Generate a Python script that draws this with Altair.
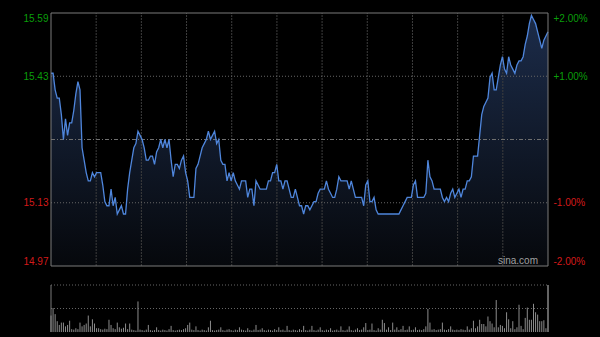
import altair as alt
import pandas as pd

PREV_CLOSE = 15.28

prices = [
    15.44, 15.44, 15.40, 15.38, 15.38, 15.34, 15.28, 15.33, 15.29, 15.32,
    15.32, 15.35, 15.39, 15.42, 15.40, 15.26, 15.23, 15.20, 15.18, 15.18,
    15.20, 15.19, 15.20, 15.20, 15.20, 15.17, 15.13, 15.12, 15.12, 15.16,
    15.12, 15.14, 15.10, 15.11, 15.12, 15.10, 15.10, 15.16, 15.20, 15.23,
    15.26, 15.27, 15.30, 15.29, 15.28, 15.26, 15.23, 15.23, 15.24, 15.24,
    15.22, 15.25, 15.26, 15.28, 15.26, 15.28, 15.26, 15.28, 15.23, 15.19,
    15.22, 15.22, 15.21, 15.23, 15.24, 15.20, 15.18, 15.14, 15.14, 15.14,
    15.21, 15.22, 15.24, 15.26, 15.27, 15.28, 15.30, 15.28, 15.29, 15.30,
    15.27, 15.28, 15.23, 15.22, 15.22, 15.18, 15.20, 15.18, 15.20, 15.18,
    15.17, 15.16, 15.18, 15.18, 15.18, 15.14, 15.16, 15.16, 15.12, 15.18,
    15.17, 15.16, 15.16, 15.16, 15.16, 15.18, 15.18, 15.20, 15.20, 15.22,
    15.18, 15.18, 15.16, 15.18, 15.18, 15.16, 15.14, 15.14, 15.16, 15.14,
    15.12, 15.12, 15.10, 15.12, 15.12, 15.11, 15.12, 15.13, 15.13, 15.15,
    15.16, 15.16, 15.16, 15.18, 15.16, 15.15, 15.14, 15.14, 15.16, 15.19,
    15.18, 15.18, 15.18, 15.18, 15.16, 15.18, 15.16, 15.14, 15.14, 15.14,
    15.14, 15.12, 15.17, 15.18, 15.13, 15.13, 15.14, 15.11, 15.10, 15.10,
    15.10, 15.10, 15.10, 15.10, 15.10, 15.10, 15.10, 15.10, 15.10, 15.11,
    15.12, 15.13, 15.14, 15.14, 15.14, 15.17, 15.18, 15.14, 15.14, 15.14,
    15.14, 15.15, 15.23, 15.19, 15.18, 15.16, 15.16, 15.16, 15.16, 15.14,
    15.13, 15.14, 15.13, 15.15, 15.16, 15.14, 15.15, 15.16, 15.14, 15.16,
    15.16, 15.18, 15.18, 15.19, 15.24, 15.24, 15.24, 15.29, 15.34, 15.36,
    15.37, 15.38, 15.43, 15.44, 15.40, 15.40, 15.43, 15.46, 15.48, 15.45,
    15.44, 15.48, 15.46, 15.45, 15.44, 15.46, 15.47, 15.47, 15.48, 15.51,
    15.53, 15.56, 15.58, 15.57, 15.56, 15.54, 15.52, 15.50, 15.52, 15.53,
    15.54,
]

volumes = [
    0.35, 0.51, 0.38, 0.23, 0.15, 0.20, 0.20, 0.12, 0.15, 0.24,
    0.06, 0.05, 0.08, 0.06, 0.20, 0.12, 0.15, 0.18, 0.35, 0.12,
    0.27, 0.18, 0.08, 0.08, 0.06, 0.05, 0.07, 0.06, 0.26, 0.15,
    0.08, 0.06, 0.20, 0.10, 0.07, 0.09, 0.18, 0.06, 0.18, 0.05,
    0.04, 0.03, 0.65, 0.05, 0.04, 0.03, 0.05, 0.15, 0.04, 0.03,
    0.04, 0.10, 0.04, 0.03, 0.05, 0.04, 0.03, 0.06, 0.13, 0.04,
    0.03, 0.04, 0.05, 0.04, 0.06, 0.08, 0.15, 0.20, 0.05, 0.04,
    0.12, 0.04, 0.03, 0.05, 0.04, 0.03, 0.10, 0.24, 0.04, 0.03,
    0.04, 0.05, 0.10, 0.04, 0.03, 0.05, 0.06, 0.04, 0.03, 0.05,
    0.04, 0.10, 0.05, 0.04, 0.03, 0.08, 0.04, 0.03, 0.05, 0.15,
    0.04, 0.05, 0.08, 0.04, 0.03, 0.05, 0.04, 0.03, 0.06, 0.04,
    0.10, 0.04, 0.05, 0.03, 0.13, 0.04, 0.03, 0.05, 0.04, 0.03,
    0.06, 0.04, 0.13, 0.04, 0.03, 0.05, 0.13, 0.04, 0.03, 0.05,
    0.10, 0.04, 0.03, 0.05, 0.04, 0.08, 0.03, 0.04, 0.05, 0.03,
    0.12, 0.04, 0.03, 0.05, 0.12, 0.04, 0.03, 0.05, 0.08, 0.04,
    0.05, 0.10, 0.19, 0.04, 0.05, 0.18, 0.04, 0.03, 0.08, 0.05,
    0.26, 0.19, 0.05, 0.10, 0.04, 0.20, 0.05, 0.10, 0.04, 0.06,
    0.13, 0.04, 0.05, 0.12, 0.04, 0.05, 0.10, 0.04, 0.05, 0.04,
    0.06, 0.12, 0.49, 0.20, 0.05, 0.06, 0.04, 0.05, 0.06, 0.20,
    0.05, 0.04, 0.06, 0.12, 0.05, 0.04, 0.05, 0.04, 0.06, 0.05,
    0.04, 0.12, 0.05, 0.08, 0.24, 0.08, 0.12, 0.26, 0.17, 0.17,
    0.12, 0.33, 0.23, 0.18, 0.10, 0.68, 0.10, 0.15, 0.13, 0.08,
    0.42, 0.27, 0.08, 0.23, 0.06, 0.10, 0.58, 0.13, 0.06, 0.30,
    0.52, 0.26, 0.26, 0.60, 0.42, 0.37, 0.23, 0.23, 0.25, 0.08,
    1.00,
]

tick_pcts = [0.02, 0.01, -0.01, -0.02]
grid_pcts = [0.01, -0.01]
n_vdiv = 11
watermark = "sina.com"

GREEN = "#0a9e0a"
RED = "#d41a1a"
FONT = "Liberation Sans"

lo = PREV_CLOSE * 0.98
hi = PREV_CLOSE * 1.02
vmax = max(volumes)
n_last = len(prices) - 1

df = pd.DataFrame({"i": list(range(len(prices))), "price": prices, "vol": volumes})
df["pct"] = df["price"] / PREV_CLOSE - 1

W, H = 497, 320
PH = 253
VTOP, VBOT = 272, 319

xs = alt.Scale(domain=[0, n_last], nice=False, zero=False)
ps = alt.Scale(domain=[lo, hi], range=[PH, 0], nice=False, zero=False)
pcs = alt.Scale(domain=[-0.02, 0.02], range=[PH, 0], nice=False, zero=False)
vs = alt.Scale(domain=[0, vmax], range=[VBOT, VTOP], nice=False, zero=True)

one = alt.Data(values=[{}])

vgrid = alt.Chart(pd.DataFrame({"g": [n_last * k / n_vdiv for k in range(1, n_vdiv)]})).mark_rule(
    color="#3e3e3e", strokeDash=[2, 1], strokeWidth=1
).encode(
    x=alt.X("g:Q", scale=xs, axis=None),
    y=alt.YDatum(lo, scale=ps, axis=None),
    y2=alt.Y2Datum(hi),
)

hgrid = alt.Chart(pd.DataFrame({"p": [PREV_CLOSE * (1 + g) for g in grid_pcts]})).mark_rule(
    color="#666666", strokeDash=[1, 2], strokeWidth=1
).encode(
    x=alt.XDatum(0, scale=xs, axis=None),
    x2=alt.X2Datum(n_last),
    y=alt.Y("p:Q", scale=ps, axis=None),
)

midline = alt.Chart(pd.DataFrame({"p": [PREV_CLOSE]})).mark_rule(
    color="#707070", strokeDash=[4, 2, 1, 2], strokeWidth=1
).encode(
    x=alt.XDatum(0, scale=xs, axis=None),
    x2=alt.X2Datum(n_last),
    y=alt.Y("p:Q", scale=ps, axis=None),
)

area = alt.Chart(df).mark_area(
    interpolate="linear",
    color=alt.Gradient(
        gradient="linear",
        stops=[alt.GradientStop(color="#1c2c4a", offset=0), alt.GradientStop(color="#06080c", offset=1)],
        x1=1, x2=1, y1=0, y2=1,
    ),
).encode(
    x=alt.X("i:Q", scale=xs, axis=None),
    y=alt.Y(
        "price:Q", scale=ps, title=None,
        axis=alt.Axis(
            orient="left", values=[PREV_CLOSE * (1 + t) for t in tick_pcts], format=".2f",
            grid=False, domain=False, ticks=False, tickSize=0, labelPadding=3,
            labelFlush=True, labelFont=FONT, labelFontSize=10,
            labelColor={"condition": {"test": f"datum.value > {PREV_CLOSE}", "value": GREEN}, "value": RED},
        ),
    ),
    y2=alt.Y2Datum(lo),
)

line = alt.Chart(df).mark_line(color="#4f86dc", strokeWidth=1.3, interpolate="linear").encode(
    x=alt.X("i:Q", scale=xs, axis=None),
    y=alt.Y(
        "pct:Q", scale=pcs, title=None,
        axis=alt.Axis(
            orient="right", values=tick_pcts,
            labelExpr="(datum.value > 0 ? '+' : '-') + format(abs(datum.value), '.2%')",
            grid=False, domain=False, ticks=False, tickSize=0, labelPadding=5,
            labelFlush=True, labelFont=FONT, labelFontSize=10,
            labelColor={"condition": {"test": "datum.value > 0", "value": GREEN}, "value": RED},
        ),
    ),
)

border = alt.Chart(one).mark_rect(fillOpacity=0, stroke="#7a7a7a", strokeWidth=1).encode(
    x=alt.XDatum(0, scale=xs, axis=None),
    x2=alt.X2Datum(n_last),
    y=alt.YDatum(lo, scale=ps, axis=None),
    y2=alt.Y2Datum(hi),
)

wm = alt.Chart(one).mark_text(
    text=watermark, font=FONT, fontSize=10, color="#a0a0a0", align="center", baseline="middle"
).encode(x=alt.value(467), y=alt.value(248))

vgridlines = alt.Chart(pd.DataFrame({"v": [vmax, vmax / 2]})).mark_rule(
    color="#666666", strokeDash=[1, 2], strokeWidth=1
).encode(
    x=alt.XDatum(0, scale=xs, axis=None),
    x2=alt.X2Datum(n_last),
    y=alt.Y("v:Q", scale=vs, axis=None),
)

vborders = alt.Chart(pd.DataFrame({"e": [0, n_last]})).mark_rule(color="#7a7a7a", strokeWidth=1).encode(
    x=alt.X("e:Q", scale=xs, axis=None),
    y=alt.YDatum(0, scale=vs, axis=None),
    y2=alt.Y2Datum(vmax),
)

vbars = alt.Chart(df).mark_rule(color="#8c8c8c", strokeWidth=1).encode(
    x=alt.X("i:Q", scale=xs, axis=None),
    y=alt.Y("vol:Q", scale=vs, axis=None),
    y2=alt.Y2Datum(0),
)

chart = alt.layer(
    area, vgrid, hgrid, midline, line, border, wm, vgridlines, vborders, vbars
).resolve_scale(y="independent").properties(
    width=W, height=H,
    padding={"left": 51, "top": 13, "right": 52, "bottom": 4},
    autosize=alt.AutoSizeParams(type="none"),
    background="#000000",
).configure_view(strokeOpacity=0)

chart.save("out.html", embed_options={"renderer": "svg", "actions": False})
